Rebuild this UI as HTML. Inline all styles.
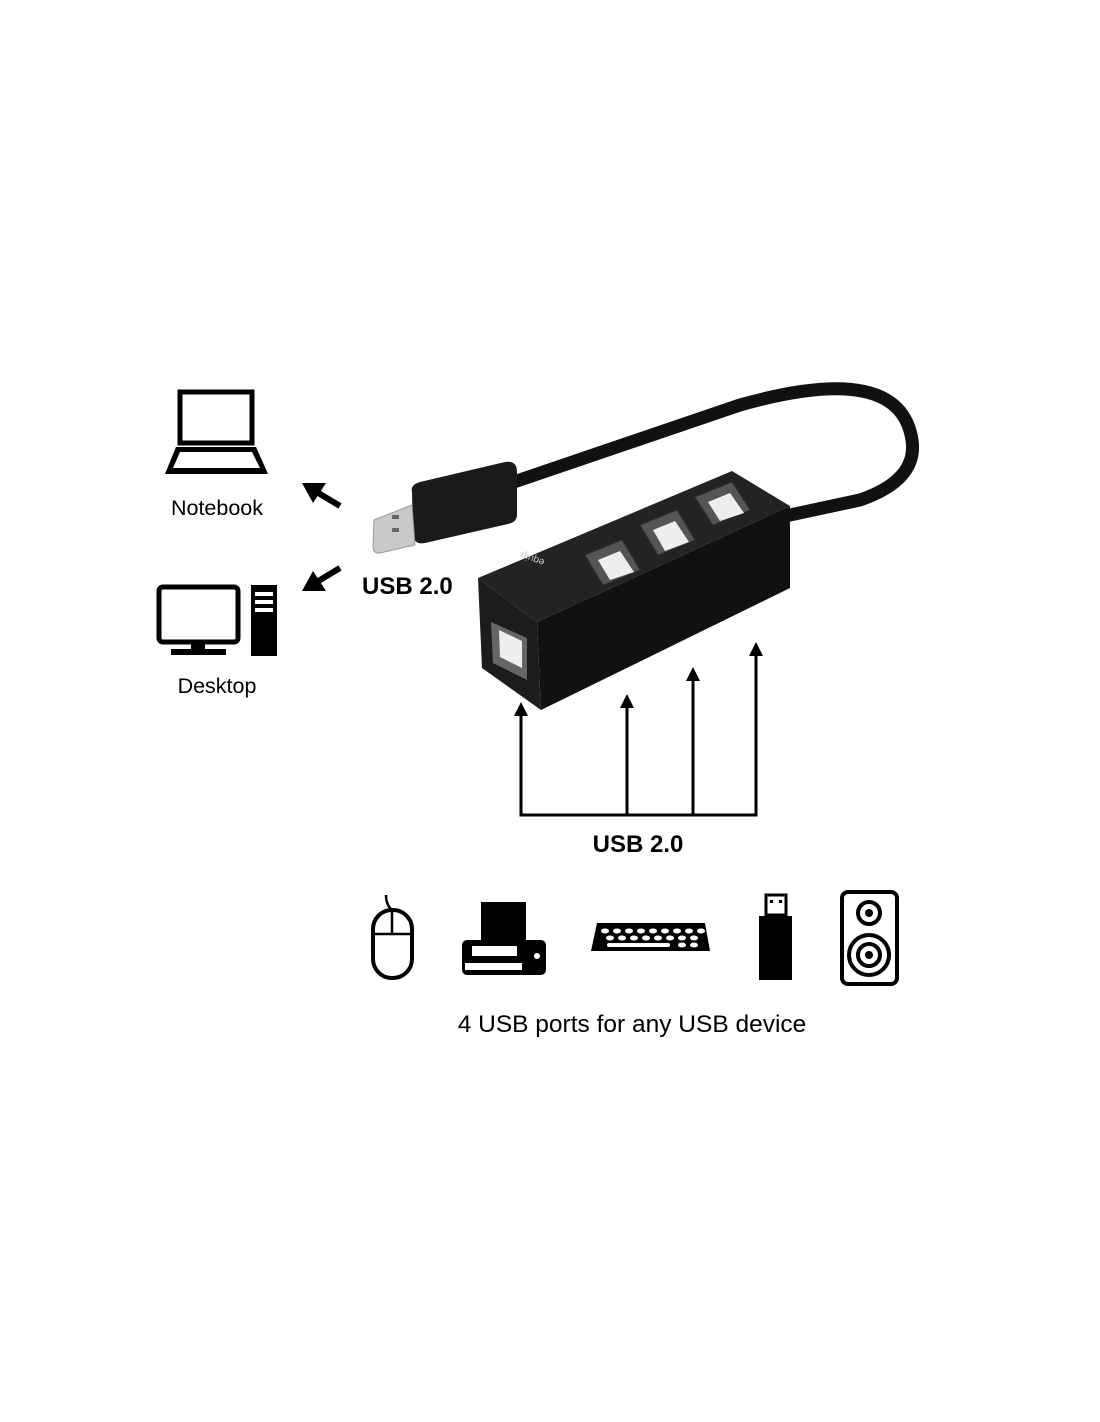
<!DOCTYPE html>
<html><head><meta charset="utf-8"><style>
body{margin:0;background:#fff}
svg{display:block}
text{font-family:"Liberation Sans",sans-serif}
</style></head><body>
<svg width="1100" height="1422" viewBox="0 0 1100 1422">
<rect width="1100" height="1422" fill="#fff"/>
<!-- Notebook -->
<rect x="180" y="392" width="72" height="51" fill="none" stroke="#000" stroke-width="5"/>
<path d="M176 447 L256 447 L268 474 L165 474 Z" fill="#000"/>
<path d="M180 452 L252 452 L260 468 L173 468 Z" fill="#fff"/>
<text x="217" y="515" font-size="21.5" text-anchor="middle">Notebook</text>
<!-- Desktop -->
<rect x="159" y="587" width="79" height="55" rx="4" fill="none" stroke="#000" stroke-width="5"/>
<rect x="191" y="642" width="14" height="8" fill="#000"/>
<rect x="171" y="649" width="55" height="6" fill="#000"/>
<rect x="251" y="585" width="26" height="71" fill="#000"/>
<rect x="255" y="592" width="18" height="4" fill="#fff"/>
<rect x="255" y="600" width="18" height="4" fill="#fff"/>
<rect x="255" y="608" width="18" height="4" fill="#fff"/>
<text x="217" y="693" font-size="21.5" text-anchor="middle">Desktop</text>
<!-- small arrows -->
<line x1="340" y1="506" x2="315" y2="491" stroke="#000" stroke-width="6"/>
<path d="M302 483 L326 483 L313 503 Z" fill="#000"/>
<line x1="340" y1="568" x2="315" y2="583" stroke="#000" stroke-width="6"/>
<path d="M302 591 L313 571 L326 591 Z" fill="#000"/>
<text x="362" y="594" font-size="24" font-weight="bold">USB 2.0</text>
<!-- cable -->
<path d="M505 485 L740 405 Q900 360 912 440 Q918 480 860 500 L790 515" fill="none" stroke="#111" stroke-width="13" stroke-linecap="round"/>
<!-- plug -->
<path d="M412 492 Q410 485 420 482 L505 462 Q517 460 517 472 L517 515 Q517 522 508 524 L425 543 Q414 545 413 535 Z" fill="#1a1a1a"/>
<path d="M374 520 L412 505 L415 545 L380 553 Q373 554 373 546 Z" fill="#c9c9c9" stroke="#999" stroke-width="1"/>
<rect x="392" y="515" width="7" height="4" fill="#666"/>
<rect x="392" y="528" width="7" height="4" fill="#666"/>
<!-- hub -->
<path d="M478 578 L732 471 L790 506 L537 622 Z" fill="#232323"/>
<path d="M537 622 L790 506 L790 588 L541 710 Z" fill="#111"/>
<path d="M478 578 L537 622 L541 710 L482 668 Z" fill="#1c1c1c"/>
<!-- top ports -->
<g fill="#555" stroke="#333">
<path d="M585 555 L622 540 L640 570 L603 585 Z"/>
<path d="M640 525 L677 510 L695 540 L658 555 Z"/>
<path d="M695 497 L732 482 L750 510 L713 525 Z"/>
</g>
<g fill="#eee">
<path d="M598 560 L620 551 L634 572 L610 580 Z"/>
<path d="M653 530 L675 521 L689 542 L665 551 Z"/>
<path d="M708 502 L730 493 L744 513 L720 521 Z"/>
</g>
<text x="0" y="0" font-size="10" fill="#ccc" transform="translate(545,560) rotate(200)">equip</text>
<!-- end port -->
<path d="M491 622 L527 638 L527 680 L493 663 Z" fill="#666"/>
<path d="M499 630 L522 641 L522 668 L500 657 Z" fill="#eee"/>
<!-- bottom arrows -->
<g stroke="#000" stroke-width="3" fill="none">
<path d="M521 715 L521 815 L756 815 L756 652"/>
<path d="M627 707 L627 815"/>
<path d="M693 680 L693 815"/>
</g>
<g fill="#000">
<path d="M514 716 L521 702 L528 716 Z"/>
<path d="M620 708 L627 694 L634 708 Z"/>
<path d="M686 681 L693 667 L700 681 Z"/>
<path d="M749 656 L756 642 L763 656 Z"/>
</g>
<text x="638" y="852" font-size="24" font-weight="bold" text-anchor="middle">USB 2.0</text>
<!-- mouse -->
<path d="M386 895 Q386 905 392 910" fill="none" stroke="#000" stroke-width="2.5"/>
<rect x="373" y="910" width="39" height="68" rx="19" fill="none" stroke="#000" stroke-width="4"/>
<line x1="373" y1="934" x2="412" y2="934" stroke="#000" stroke-width="2.5"/>
<line x1="392" y1="910" x2="392" y2="934" stroke="#000" stroke-width="2.5"/>
<!-- printer -->
<rect x="481" y="902" width="45" height="42" fill="#000"/>
<rect x="462" y="940" width="84" height="35" rx="5" fill="#000"/>
<rect x="472" y="946" width="45" height="10" fill="#fff"/>
<rect x="465" y="963" width="57" height="7" fill="#fff"/>
<circle cx="537" cy="956" r="3" fill="#fff"/>
<!-- keyboard -->
<path d="M597 923 L705 923 L710 951 L591 951 Z" fill="#000"/>
<g fill="#fff">
<ellipse cx="605" cy="931" rx="4" ry="2.5"/><ellipse cx="617" cy="931" rx="4" ry="2.5"/><ellipse cx="629" cy="931" rx="4" ry="2.5"/><ellipse cx="641" cy="931" rx="4" ry="2.5"/><ellipse cx="653" cy="931" rx="4" ry="2.5"/><ellipse cx="665" cy="931" rx="4" ry="2.5"/><ellipse cx="677" cy="931" rx="4" ry="2.5"/><ellipse cx="689" cy="931" rx="4" ry="2.5"/><ellipse cx="701" cy="931" rx="4" ry="2.5"/>
<ellipse cx="610" cy="938" rx="4" ry="2.5"/><ellipse cx="622" cy="938" rx="4" ry="2.5"/><ellipse cx="634" cy="938" rx="4" ry="2.5"/><ellipse cx="646" cy="938" rx="4" ry="2.5"/><ellipse cx="658" cy="938" rx="4" ry="2.5"/><ellipse cx="670" cy="938" rx="4" ry="2.5"/><ellipse cx="682" cy="938" rx="4" ry="2.5"/><ellipse cx="694" cy="938" rx="4" ry="2.5"/>
<rect x="607" y="943" width="63" height="4" rx="2"/><ellipse cx="682" cy="945" rx="4" ry="2.5"/><ellipse cx="694" cy="945" rx="4" ry="2.5"/>
</g>
<!-- usb stick -->
<rect x="766" y="895" width="20" height="20" fill="none" stroke="#000" stroke-width="3"/>
<rect x="770" y="900" width="3" height="3" fill="#000"/><rect x="779" y="900" width="3" height="3" fill="#000"/>
<rect x="759" y="916" width="33" height="64" fill="#000"/>
<!-- speaker -->
<rect x="842" y="892" width="55" height="92" rx="6" fill="none" stroke="#000" stroke-width="4"/>
<circle cx="869" cy="913" r="11" fill="none" stroke="#000" stroke-width="4"/>
<circle cx="869" cy="913" r="4" fill="#000"/>
<circle cx="869" cy="955" r="20" fill="none" stroke="#000" stroke-width="4"/>
<circle cx="869" cy="955" r="11" fill="none" stroke="#000" stroke-width="4"/>
<circle cx="869" cy="955" r="4" fill="#000"/>
<text x="632" y="1032" font-size="24.5" text-anchor="middle">4 USB ports for any USB device</text>
</svg>
</body></html>
